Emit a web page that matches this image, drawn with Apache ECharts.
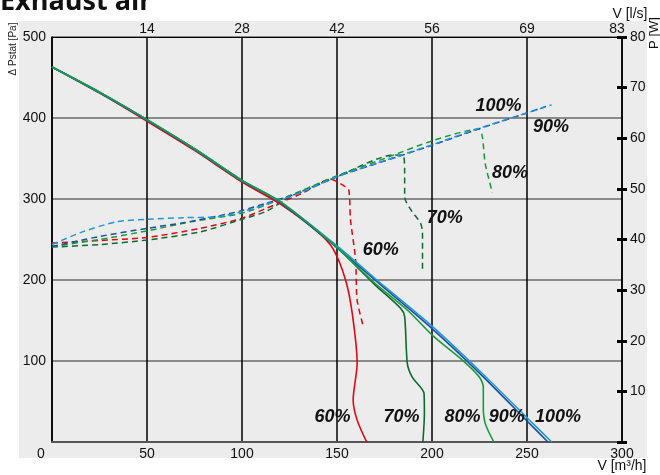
<!DOCTYPE html>
<html>
<head>
<meta charset="utf-8">
<script src="https://cdn.jsdelivr.net/npm/echarts@6/dist/echarts.min.js"></script>
<style>
  html, body { margin: 0; padding: 0; background: #fff; }
  #chart { width: 660px; height: 475px; }
</style>
</head>
<body>
<div id="chart"></div>
<script>
// pressure curves: V [m3/h] -> dPstat [Pa]
const v100 = [0, 25, 50, 75, 100, 120, 150, 175, 200, 225, 250, 263]
const p100 = [463, 432, 398, 362, 323, 297, 242, 192, 143, 88, 30, 0]
const v90 = [0, 25, 50, 75, 100, 120, 150, 175, 200, 225, 250, 261]
const p90 = [463, 431, 397, 361, 322, 296, 240, 190, 140, 85, 26, 0]
const v80 = [0, 25, 50, 75, 100, 120, 150, 170, 187, 201, 216, 225, 227, 227, 228, 232.5]
const p80 = [463, 432, 398, 362, 323, 297, 240, 196, 163, 130, 101, 80, 68, 43, 23, 0]
const v70 = [0, 25, 50, 75, 100, 120, 150, 170, 183.5, 185.6, 187, 189.6, 195.8, 196, 195.2]
const p70 = [463, 432, 398, 362, 323, 296, 240, 194, 165, 155, 97, 80, 60, 35, 0]
const v60 = [0, 25, 50, 75, 100, 120, 140, 148, 154.5, 158, 160.6, 158.5, 160.6, 165.6]
const p60 = [463, 431, 396, 360, 321, 294, 259, 238, 200, 159, 97, 52, 27, 0]

// power curves: V [m3/h] -> P [W]
const wv100 = [0, 16, 34, 50, 69, 87, 100, 113, 131, 150, 175, 200, 225, 250, 263]
const w100 = [39, 41.5, 43.5, 44, 44.3, 44.5, 45.5, 47, 49.3, 52.4, 55.6, 58.7, 62, 65, 66.6]
const wv90 = [0, 25, 50, 69, 87, 100, 113, 131, 150, 175, 200, 225, 250, 260]
const w90 = [38.6, 40.6, 42.2, 43.3, 44.6, 45.7, 47.2, 49.3, 52.4, 55.5, 58.6, 61.9, 65, 66.3]
const wv80 = [0, 25, 50, 73, 100, 122, 150, 175, 201, 224.6, 226.5, 228, 231.8]
const w80 = [38.6, 40, 41.7, 43.5, 45.2, 48.2, 52.6, 56, 59.6, 61.8, 60.3, 55, 49.2]
const wv70 = [0, 25, 50, 78, 100, 113, 125.5, 150, 180, 185, 185.6, 185.6, 189, 194, 195, 195]
const w70 = [38.5, 39, 39.9, 41.5, 44, 45.6, 48.5, 52.4, 56.7, 56.5, 53.1, 48.4, 45.8, 43.2, 41.3, 33.4]
const wv60 = [0, 25, 50, 78, 100, 113, 131, 146.6, 153.6, 156.2, 157.1, 159.8, 160.6, 164.1]
const w60 = [39.3, 39.8, 40.4, 42.2, 44.2, 46.2, 49, 51.9, 50.6, 49.8, 43.9, 36, 28, 22.5]

// curve labels (data coords on the Pa axis)
const labelNames = ["60%", "70%", "80%", "90%", "100%", "100%", "90%", "80%", "70%", "60%"]
const labelV = [147.6, 184, 216, 239.4, 266.3, 235, 262.6, 241, 206.7, 173]
const labelP = [31, 31, 31, 31, 31, 415, 389, 332, 276.5, 237]

const red = "#e30613"
const lightBlue = "#2196dc"
const darkBlue = "#1d4f9e"
const green = "#1a9a3a"
const darkGreen = "#0e6a30"

const zip = (xs, ys) => xs.map((x, i) => [x, ys[i]])

const chart = echarts.init(document.getElementById("chart"), null, { renderer: "canvas" })

const labelFont = { fontFamily: "Liberation Sans", fontSize: 14, color: "#111" }

function solid(name, xs, ys, color) {
  return {
    name, type: "line", xAxisIndex: 0, yAxisIndex: 0,
    data: zip(xs, ys), showSymbol: false, smooth: 0.25,
    lineStyle: { color, width: 1.6 }, z: 3
  }
}
function dashed(name, xs, ys, color) {
  return {
    name, type: "line", xAxisIndex: 0, yAxisIndex: 1,
    data: zip(xs, ys), showSymbol: false, smooth: 0.25,
    lineStyle: { color, width: 1.5, type: [6, 4] }, z: 3
  }
}

const option = {
  animation: false,
  backgroundColor: "#fff",
  grid: { left: 52, right: 38, top: 37, bottom: 33 },
  graphic: [
    { type: "rect", z: -10, silent: true, shape: { x: 19, y: 21, width: 628, height: 437 }, style: { fill: "#ebeceb" } },
    { type: "line", z: 10, silent: true, shape: { x1: 622, y1: 37, x2: 622, y2: 442 }, style: { stroke: "#000", lineWidth: 1.5 } },
    { type: "text", x: 0, y: 2, style: { text: "Exhaust air", font: "bold 27px 'Open Sans'", fill: "#111", verticalAlign: "middle" } },
    { type: "text", x: 13, y: 49, rotation: Math.PI / 2, style: { text: "Δ Pstat [Pa]", font: "10px 'Liberation Sans'", fill: "#222", align: "center", verticalAlign: "middle" } },
    { type: "text", x: 654, y: 33, rotation: Math.PI / 2, style: { text: "P [W]", font: "13px 'Liberation Sans'", fill: "#111", align: "center", verticalAlign: "middle" } },
    { type: "text", x: 630, y: 14, style: { text: "V [l/s]", font: "14px 'Liberation Sans'", fill: "#111", align: "center", verticalAlign: "middle" } },
    { type: "text", x: 622, y: 466, style: { text: "V [m³/h]", font: "14px 'Liberation Sans'", fill: "#111", align: "center", verticalAlign: "middle" } }
  ],
  xAxis: [
    {
      type: "value", position: "bottom", min: 0, max: 300, interval: 50,
      axisLine: { show: true, lineStyle: { color: "#555", width: 2 } },
      axisTick: { show: false },
      splitLine: { show: true, lineStyle: { color: "#000", width: 1.5 } },
      axisLabel: {
        ...labelFont, margin: 5,
        formatter: (v) => (v === 0 ? "{z|0}" : String(v)),
        rich: { z: { ...labelFont, padding: [0, 22, 0, 0] } }
      }
    },
    {
      type: "value", position: "top", min: 0, max: 300, interval: 50,
      axisLine: { show: true, onZero: false, lineStyle: { color: "#000", width: 1 } },
      axisTick: { show: false },
      splitLine: { show: false },
      axisLabel: {
        ...labelFont, margin: 1,
        formatter: (v) => (v === 0 ? "" : v === 300 ? "{r|83}" : String(Math.round(v / 3.6))),
        rich: { r: { ...labelFont, padding: [0, 10, 0, 0] } }
      }
    }
  ],
  yAxis: [
    {
      type: "value", position: "left", min: 0, max: 500, interval: 100,
      axisLine: { show: true, onZero: false, lineStyle: { color: "#000", width: 1.5 } },
      axisTick: { show: false },
      splitLine: { show: true, lineStyle: { color: "#8a8a8a", width: 2 } },
      axisLabel: { ...labelFont, margin: 6, formatter: (v) => (v === 0 ? "" : String(v)) }
    },
    {
      type: "value", position: "right", offset: -5, min: 0, max: 80, interval: 10,
      axisLine: { show: false, onZero: false },
      axisTick: { show: true, inside: false, length: 10, lineStyle: { color: "#000", width: 3 } },
      splitLine: { show: false },
      axisLabel: { ...labelFont, margin: 13, formatter: (v) => (v === 0 ? "" : String(v)) }
    }
  ],
  series: [
    dashed("P 60%", wv60, w60, red),
    dashed("P 70%", wv70, w70, darkGreen),
    dashed("P 80%", wv80, w80, green),
    dashed("P 90%", wv90, w90, darkBlue),
    dashed("P 100%", wv100, w100, lightBlue),
    solid("60%", v60, p60, red),
    solid("70%", v70, p70, darkGreen),
    solid("90%", v90, p90, darkBlue),
    solid("100%", v100, p100, lightBlue),
    solid("80%", v80, p80, green),
    {
      type: "scatter", xAxisIndex: 0, yAxisIndex: 0, symbolSize: 0, z: 5,
      itemStyle: { color: "#000", opacity: 1 },
      data: labelNames.map((n, i) => ({ name: n, value: [labelV[i], labelP[i]] })),
      label: {
        show: true, position: [0, 0], align: "center", verticalAlign: "middle", formatter: "{b}",
        fontFamily: "Liberation Sans", fontSize: 18, fontWeight: "bold", fontStyle: "italic",
        color: "#111", textBorderWidth: 0
      }
    }
  ]
}

chart.setOption(option)
</script>
</body>
</html>
